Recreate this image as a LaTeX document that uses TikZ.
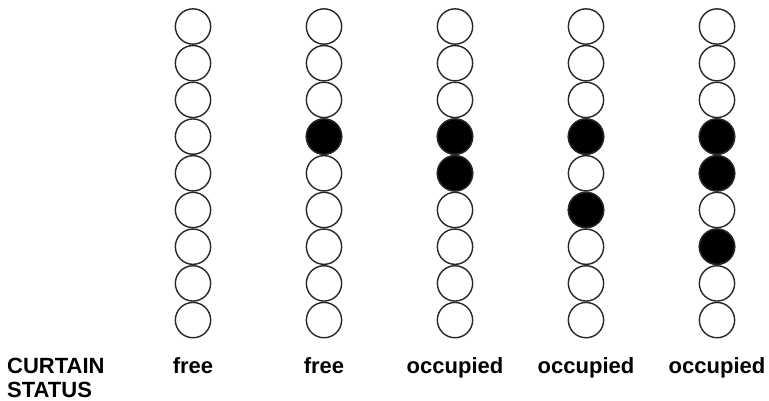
\documentclass[tikz,border=0pt]{standalone}
\usepackage{fontspec}
\setmainfont{Liberation Sans}
\usetikzlibrary{positioning}
\tikzset{
	bead/.style={circle, draw=black!85, line width=1.4pt, minimum size=35.3pt, inner sep=0pt},
	fullbead/.style={bead, fill=black},
	slabel/.style={font=\fontsize{22}{24.5}\selectfont\bfseries, inner sep=0pt}
}

\begin{document}
\begin{tikzpicture}[x=1pt, y=-1pt]
	\useasboundingbox (0,0) rectangle (769,401);
	% columns of beads, top to bottom
	\foreach \col/\xc/\full in {1/193/{}, 2/324/{4}, 3/455/{4,5}, 4/586/{4,6}, 5/717/{4,5,7}} {
		\foreach \row in {1,...,9} {
			\node[bead] (b\col-\row) at (\xc, {26.5+36.7*(\row-1)}) {};
		}
		\foreach \row in \full {
			\node[fullbead] at (b\col-\row) {};
		}
	}
	\node[slabel, anchor=north west, align=left] (head) at (7,357.5) {CURTAIN\\STATUS};
	\node[slabel, anchor=base] (s1) at (193,373) {free};
	\node[slabel, anchor=base] (s2) at (324,373) {free};
	\node[slabel, anchor=base] (s3) at (455,373) {occupied};
	\node[slabel, anchor=base] (s4) at (586,373) {occupied};
	\node[slabel, anchor=base] (s5) at (717,373) {occupied};
\end{tikzpicture}
\end{document}
